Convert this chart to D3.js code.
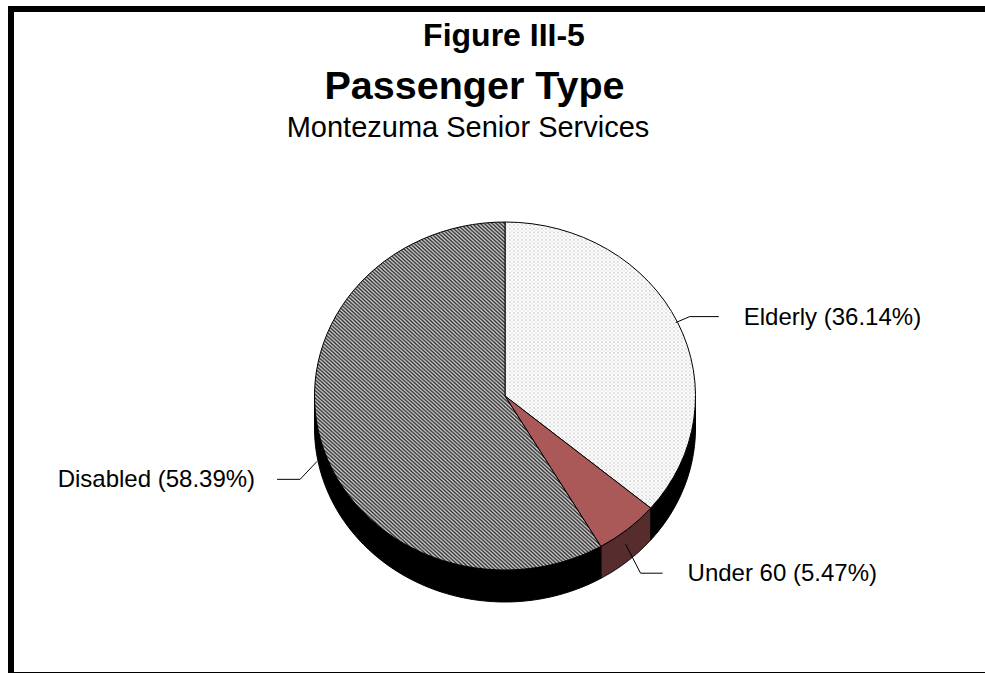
<!DOCTYPE html>
<html>
<head>
<meta charset="utf-8">
<script src="https://cdn.jsdelivr.net/npm/d3@7"></script>
<style>
  html, body { margin: 0; padding: 0; background: #fff; }
  svg { display: block; }
  text { font-family: "Liberation Sans", Arial, sans-serif; fill: #000; }
</style>
</head>
<body>
<div id="pie_chart"></div>
<script>
const categories = ['Elderly', 'Under 60', 'Disabled'];
const shares = [36.14, 5.47, 58.39];
const share_labels = ['36.14%', '5.47%', '58.39%'];

const width = 985, height = 673;
const cx = 505, cy = 396, rx = 190.5, ry = 174, depth = 32;

const svg = d3.select('#pie_chart')
  .append('svg')
  .attr('width', width)
  .attr('height', height);

// fill patterns
const defs = svg.append('defs');
const light = defs.append('pattern').attr('id', 'lightFill')
  .attr('patternUnits', 'userSpaceOnUse').attr('width', 4).attr('height', 4);
light.append('rect').attr('width', 4).attr('height', 4).attr('fill', '#fff');
light.append('rect').attr('x', 0).attr('y', 0).attr('width', 2).attr('height', 2).attr('fill', '#dcdcdc');
light.append('rect').attr('x', 2).attr('y', 2).attr('width', 2).attr('height', 2).attr('fill', '#ececec');

// diagonal hatch running down to the right
const dark = defs.append('pattern').attr('id', 'darkFill')
  .attr('patternUnits', 'userSpaceOnUse').attr('width', 4).attr('height', 4);
dark.append('rect').attr('width', 4).attr('height', 4).attr('fill', '#d4d4d4');
dark.append('path').attr('d', 'M-1,-1 L5,5 M-3,1 L1,5 M3,-1 L5,1')
  .attr('stroke', '#303030').attr('stroke-width', 1.5);

const topFill = ['url(#lightFill)', '#ab5858', 'url(#darkFill)'];
const sideFill = ['#000', '#572c2c', '#000'];

// frame
svg.append('rect').attr('x', 8).attr('y', 6).attr('width', 977).attr('height', 6).attr('fill', '#000');
svg.append('rect').attr('x', 8).attr('y', 6).attr('width', 6).attr('height', 667).attr('fill', '#000');
svg.append('rect').attr('x', 8).attr('y', 672).attr('width', 977).attr('height', 1).attr('fill', '#000');

// titles
svg.append('text').attr('x', 504).attr('y', 46).attr('text-anchor', 'middle')
  .attr('font-size', '32px').attr('font-weight', 'bold').text('Figure III-5');
svg.append('text').attr('x', 474.5).attr('y', 99).attr('text-anchor', 'middle')
  .attr('font-size', '39.5px').attr('font-weight', 'bold').text('Passenger Type');
svg.append('text').attr('x', 468).attr('y', 137).attr('text-anchor', 'middle')
  .attr('font-size', '29px').text('Montezuma Senior Services');

const pie = d3.pie().sort(null).value(d => d);
const slices = pie(shares);

// point on the rim of the ellipse, angle clockwise from top
const rimX = a => cx + rx * Math.sin(a);
const rimY = a => cy - ry * Math.cos(a);

// side wall of the pie, only the part that faces the viewer
const wall = svg.append('g');
slices.forEach((s, i) => {
  const a0 = Math.max(s.startAngle, Math.PI / 2);
  const a1 = Math.min(s.endAngle, Math.PI * 3 / 2);
  if (a1 <= a0) return;
  const n = 60;
  const angles = d3.range(n + 1).map(k => a0 + (a1 - a0) * k / n);
  const pts = angles.map(a => [rimX(a), rimY(a)])
    .concat(angles.slice().reverse().map(a => [rimX(a), rimY(a) + depth]));
  wall.append('path')
    .attr('d', d3.line()(pts) + 'Z')
    .attr('fill', sideFill[i])
    .attr('stroke', '#000')
    .attr('stroke-width', 1);
});

// top face
const arc = d3.arc().innerRadius(0).outerRadius(rx);
svg.append('g')
  .attr('transform', `translate(${cx},${cy}) scale(1,${ry / rx})`)
  .selectAll('path')
  .data(slices)
  .join('path')
    .attr('d', arc)
    .attr('fill', (d, i) => topFill[i])
    .attr('stroke', '#000')
    .attr('stroke-width', 1)
    .attr('vector-effect', 'non-scaling-stroke');

// leader lines and labels
const labelSide = [1, 1, -1];
const labelGap = [25, 25, 22];
const anchorDy = [0, 15, 20];
const anchorDx = [-2, -2, -4];
const elbowDx = [14, 15, -17];
const elbowDy = [-6, 29, 18];
const tailLen = [29, 22, 23];

slices.forEach((s, i) => {
  const mid = (s.startAngle + s.endAngle) / 2;
  const x0 = rimX(mid) + anchorDx[i], y0 = rimY(mid) + anchorDy[i];
  const x1 = x0 + elbowDx[i], y1 = y0 + elbowDy[i];
  const x2 = x1 + labelSide[i] * tailLen[i];
  svg.append('path')
    .attr('d', d3.line()([[x0, y0], [x1, y1], [x2, y1]]))
    .attr('fill', 'none')
    .attr('stroke', '#000')
    .attr('stroke-width', 1);
  svg.append('text')
    .attr('x', x2 + labelSide[i] * labelGap[i])
    .attr('y', y1 + 8)
    .attr('text-anchor', labelSide[i] > 0 ? 'start' : 'end')
    .attr('font-size', '24px')
    .text(`${categories[i]} (${share_labels[i]})`);
});
</script>
</body>
</html>
